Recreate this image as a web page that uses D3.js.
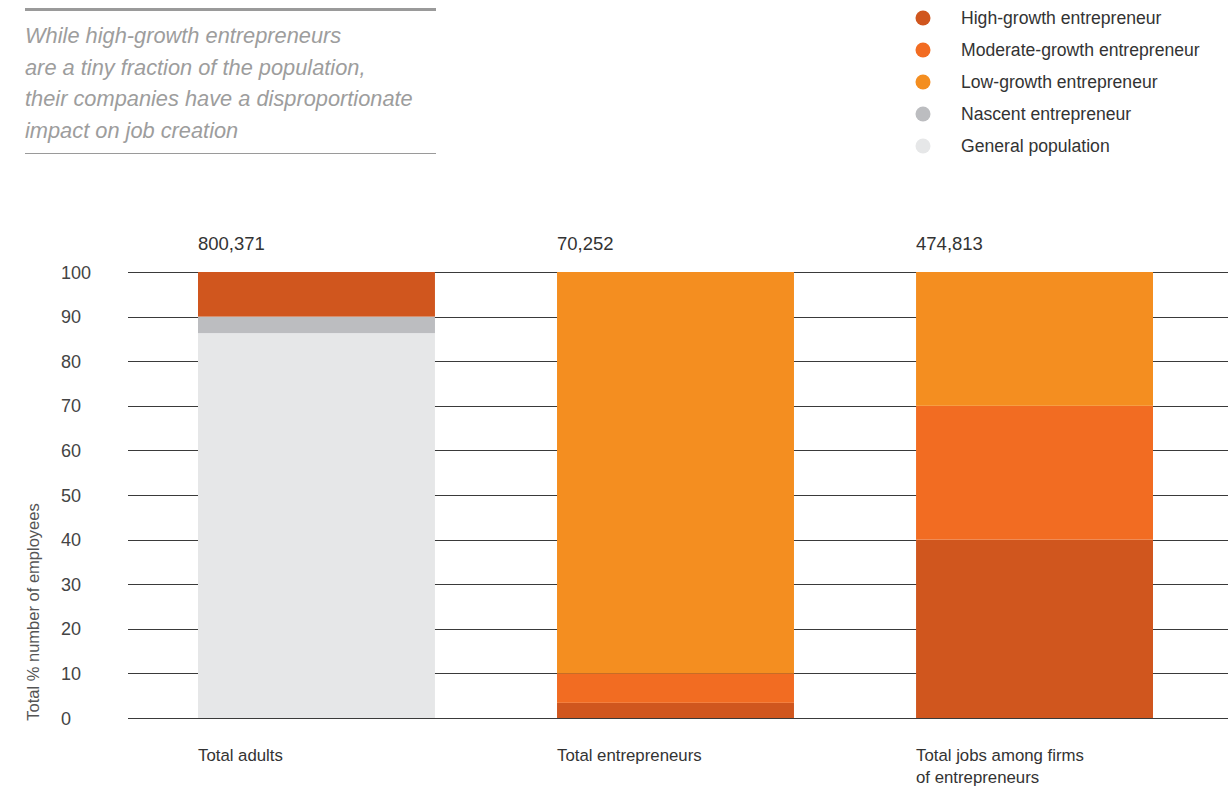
<!DOCTYPE html>
<html>
<head>
<meta charset="utf-8">
<script src="https://cdn.jsdelivr.net/npm/d3@7"></script>
<style>
  html, body { margin: 0; padding: 0; background: #fff; }
  svg { display: block; font-family: "Liberation Sans", Arial, Helvetica, sans-serif; }
</style>
</head>
<body>
<svg id="chart" width="1228" height="789"></svg>
<script>
// ---- Data ----
const categories = ["Total adults", "Total entrepreneurs", "Total jobs among firms|of entrepreneurs"];
const totals = ["800,371", "70,252", "474,813"];
const seriesNames = ["General population", "Nascent entrepreneur", "High-growth entrepreneur", "Moderate-growth entrepreneur", "Low-growth entrepreneur"];
const generalPopulation = [86.3, 0, 0];
const nascentEntrepreneur = [3.7, 0, 0];
const highGrowth = [10, 3.4, 40];
const moderateGrowth = [0, 6.6, 30];
const lowGrowth = [0, 90, 30];
const yTicks = [0, 10, 20, 30, 40, 50, 60, 70, 80, 90, 100];
const legendOrder = ["High-growth entrepreneur", "Moderate-growth entrepreneur", "Low-growth entrepreneur", "Nascent entrepreneur", "General population"];
const titleLines = ["While high-growth entrepreneurs", "are a tiny fraction of the population,", "their companies have a disproportionate", "impact on job creation"];
const yLabel = "Total % number of employees";

const colors = {
  "High-growth entrepreneur": "#D0561E",
  "Moderate-growth entrepreneur": "#F26C22",
  "Low-growth entrepreneur": "#F48E20",
  "Nascent entrepreneur": "#BCBDC0",
  "General population": "#E6E7E8"
};

const seriesValues = [generalPopulation, nascentEntrepreneur, highGrowth, moderateGrowth, lowGrowth];
const table = categories.map((c, i) => {
  const row = { category: c };
  seriesNames.forEach((s, j) => row[s] = seriesValues[j][i]);
  return row;
});

const svg = d3.select("#chart");

// ---- Scales ----
const y = d3.scaleLinear().domain([0, 100]).range([718, 272]);
const x = d3.scaleBand().domain(categories).range([198, 1153]).paddingInner(0.34).paddingOuter(0);

// ---- Gridlines ----
svg.append("g")
  .selectAll("line")
  .data(yTicks)
  .join("line")
  .attr("x1", 128).attr("x2", 1228)
  .attr("y1", d => Math.round(y(d)) + 0.5).attr("y2", d => Math.round(y(d)) + 0.5)
  .attr("stroke", "#3a3a3a").attr("stroke-width", 1.2);

// ---- Y tick labels ----
svg.append("g")
  .selectAll("text")
  .data(yTicks)
  .join("text")
  .attr("x", 61)
  .attr("y", d => y(d) + 6.5)
  .attr("font-size", 18)
  .attr("fill", "#444")
  .text(d => d);

// ---- Y label ----
svg.append("text")
  .attr("transform", "translate(39,612) rotate(-90)")
  .attr("text-anchor", "middle")
  .attr("font-size", 16.5)
  .attr("fill", "#555")
  .text(yLabel);

// ---- Stacked bars ----
const stack = d3.stack().keys(seriesNames)(table);
svg.append("g")
  .selectAll("g")
  .data(stack)
  .join("g")
  .attr("fill", d => colors[d.key])
  .selectAll("rect")
  .data(d => d)
  .join("rect")
  .attr("x", d => x(d.data.category))
  .attr("width", x.bandwidth())
  .attr("y", d => y(d[1]))
  .attr("height", d => y(d[0]) - y(d[1]));

// ---- Totals above bars ----
svg.append("g")
  .selectAll("text")
  .data(categories)
  .join("text")
  .attr("x", d => x(d))
  .attr("y", 250)
  .attr("font-size", 18.5)
  .attr("fill", "#333")
  .text((d, i) => totals[i]);

// ---- Category labels ----
const catG = svg.append("g");
categories.forEach(c => {
  const t = catG.append("text")
    .attr("x", x(c))
    .attr("y", 761)
    .attr("font-size", 16.8)
    .attr("fill", "#333");
  c.split("|").forEach((line, k) => {
    t.append("tspan").attr("x", x(c)).attr("dy", k === 0 ? 0 : 22).text(line);
  });
});

// ---- Title block ----
svg.append("line").attr("x1", 25).attr("x2", 436).attr("y1", 9.5).attr("y2", 9.5)
  .attr("stroke", "#9a9a9a").attr("stroke-width", 3);
svg.append("line").attr("x1", 25).attr("x2", 436).attr("y1", 153.5).attr("y2", 153.5)
  .attr("stroke", "#9a9a9a").attr("stroke-width", 1);
svg.append("g")
  .selectAll("text")
  .data(titleLines)
  .join("text")
  .attr("x", 25)
  .attr("y", (d, i) => 43 + i * 31.6)
  .attr("font-size", 21.8)
  .attr("font-style", "italic")
  .attr("fill", "#9d9d9d")
  .text(d => d);

// ---- Legend ----
const leg = svg.append("g")
  .selectAll("g")
  .data(legendOrder)
  .join("g")
  .attr("transform", (d, i) => `translate(0,${18 + i * 32})`);
leg.append("circle").attr("cx", 923).attr("cy", 0).attr("r", 7.5).attr("fill", d => colors[d]);
leg.append("text").attr("x", 961).attr("y", 6).attr("font-size", 17.6).attr("fill", "#333").text(d => d);
</script>
</body>
</html>
